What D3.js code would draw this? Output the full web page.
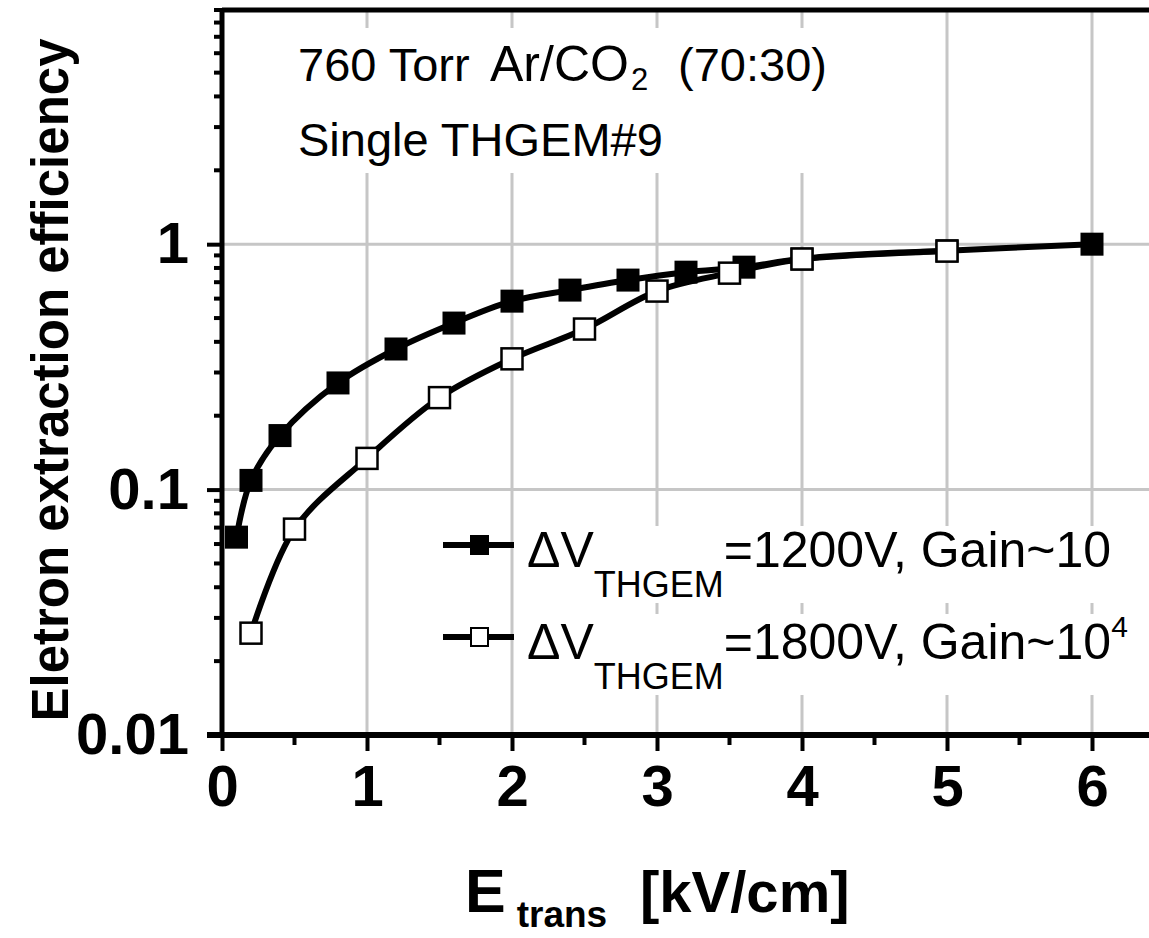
<!DOCTYPE html>
<html><head><meta charset="utf-8">
<script src="https://cdn.jsdelivr.net/npm/d3@7"></script>
<style>body{margin:0;background:#fff} svg{display:block} text{font-family:"Liberation Sans",Arial,sans-serif}</style>
</head><body><svg id="c" width="1149" height="938"></svg>
<script>
// ---- data ----
const xTickValues = [0, 1, 2, 3, 4, 5, 6];
const xTickLabels = ["0", "1", "2", "3", "4", "5", "6"];
const yTickValues = [0.01, 0.1, 1];
const yTickLabels = ["0.01", "0.1", "1"];
const field1200 = [0.1, 0.2, 0.4, 0.8, 1.2, 1.6, 2.0, 2.4, 2.8, 3.2, 3.6, 4.0, 5.0, 6.0];
const eff1200   = [0.064, 0.109, 0.166, 0.272, 0.374, 0.477, 0.586, 0.650, 0.714, 0.769, 0.806, 0.87, 0.94, 1.0];
const field1800 = [0.2, 0.5, 1.0, 1.5, 2.0, 2.5, 3.0, 3.5, 4.0, 5.0];
const eff1800   = [0.026, 0.069, 0.134, 0.237, 0.341, 0.451, 0.644, 0.762, 0.87, 0.937];
const seriesNames = ["1200V, Gain~10", "1800V, Gain~10"];

const svg = d3.select("#c");
const x = d3.scaleLinear().domain([0, 6.4]).range([222, 1150]);
const y = d3.scaleLog().domain([0.01, 9]).range([735, 10]);
const grid = "#c6c6c6";

// gridlines
svg.append("g").selectAll("line").data(xTickValues.filter(d => d > 0)).join("line")
  .attr("x1", d => x(d)).attr("x2", d => x(d)).attr("y1", y(9)).attr("y2", y(0.01))
  .attr("stroke", grid).attr("stroke-width", 3);
svg.append("g").selectAll("line").data([0.1, 1]).join("line")
  .attr("x1", x(0)).attr("x2", x(6.4)).attr("y1", d => y(d)).attr("y2", d => y(d))
  .attr("stroke", grid).attr("stroke-width", 3);

// annotation block
const bgLayer = svg.append("g");
const ann = svg.append("g").attr("font-size", 47).attr("fill", "#000");
const t1 = ann.append("text").attr("y", 81);
t1.append("tspan").attr("x", 298).text("760 Torr");
t1.append("tspan").attr("x", 490).attr("font-size", 50).text("Ar/CO");
t1.append("tspan").attr("font-size", 31).attr("dy", 9).attr("dx", 2).text("2");
t1.append("tspan").attr("x", 678).attr("dy", -9).text("(70:30)");
ann.append("text").attr("x", 298).attr("y", 156).text("Single THGEM#9");
{
  const b = ann.node().getBBox();
  bgLayer.append("rect").attr("x", b.x - 6).attr("y", 28).attr("width", b.width + 12).attr("height", 145).attr("fill", "#fff");
}

// legend
const legRows = [
  {y: 545, base: 567, name: seriesNames[0], sup: null, filled: true},
  {y: 637, base: 659, name: seriesNames[1], sup: "4", filled: false}
];
legRows.forEach(r => {
  const g = svg.append("g");
  g.append("line").attr("x1", 443).attr("x2", 514).attr("y1", r.y).attr("y2", r.y).attr("stroke", "#000").attr("stroke-width", 6);
  g.append("rect").attr("x", 471).attr("y", r.y - 9).attr("width", 17).attr("height", 18)
    .attr("fill", r.filled ? "#000" : "#fff").attr("stroke", "#000").attr("stroke-width", 2);
  const t = g.append("text").attr("x", 527).attr("y", r.base).attr("font-size", 50);
  t.append("tspan").text("\u0394V");
  t.append("tspan").attr("font-size", 36).attr("dy", 30).text("THGEM");
  t.append("tspan").attr("dy", -30).text("=" + r.name);
  if (r.sup) t.append("tspan").attr("font-size", 30).attr("dy", -22).text(r.sup);
  const b = t.node().getBBox();
  bgLayer.append("rect").attr("x", b.x - 4).attr("y", b.y + 4).attr("width", b.width + 8).attr("height", b.height - 6).attr("fill", "#fff");
});

// curves
const line = d3.line().x(d => x(d[0])).y(d => y(d[1])).curve(d3.curveCatmullRom.alpha(0.5));
const s1800 = field1800.map((v, i) => [v, eff1800[i]]);
const s1200 = field1200.map((v, i) => [v, eff1200[i]]);
svg.append("path").datum(s1200).attr("d", line).attr("fill", "none").attr("stroke", "#000").attr("stroke-width", 6);
svg.append("path").datum(s1800).attr("d", line).attr("fill", "none").attr("stroke", "#000").attr("stroke-width", 6);
svg.append("g").selectAll("rect").data(s1200).join("rect")
  .attr("x", d => x(d[0]) - 11.5).attr("y", d => y(d[1]) - 11.5).attr("width", 23).attr("height", 23).attr("fill", "#000");
svg.append("g").selectAll("rect").data(s1800).join("rect")
  .attr("x", d => x(d[0]) - 10.5).attr("y", d => y(d[1]) - 10.5).attr("width", 21).attr("height", 21)
  .attr("fill", "#fff").attr("stroke", "#000").attr("stroke-width", 2.5);

// axes frame
svg.append("line").attr("x1", x(0)).attr("x2", x(6.4)).attr("y1", y(9)).attr("y2", y(9)).attr("stroke", "#000").attr("stroke-width", 5);
svg.append("line").attr("x1", x(0)).attr("x2", x(0)).attr("y1", y(9) - 2).attr("y2", y(0.01)).attr("stroke", "#000").attr("stroke-width", 5);
svg.append("line").attr("x1", 207).attr("x2", x(6.4)).attr("y1", y(0.01)).attr("y2", y(0.01)).attr("stroke", "#000").attr("stroke-width", 6);

// x ticks
const xAxis = d3.axisBottom(x).tickValues(xTickValues).tickFormat((d, i) => xTickLabels[i]).tickSize(16).tickPadding(14);
const gx = svg.append("g").attr("transform", `translate(0,${y(0.01)})`).call(xAxis);
gx.select(".domain").remove();
gx.selectAll(".tick line").attr("stroke", "#000").attr("stroke-width", 4);
gx.selectAll(".tick text").attr("font-size", 58).attr("font-weight", "bold").attr("fill", "#000")
  .attr("font-family", '"Liberation Sans",Arial,sans-serif');
const xMinor = d3.range(0.5, 6.4, 1);
svg.append("g").selectAll("line").data(xMinor).join("line")
  .attr("x1", d => x(d)).attr("x2", d => x(d)).attr("y1", y(0.01)).attr("y2", y(0.01) + 10)
  .attr("stroke", "#000").attr("stroke-width", 4);

// y ticks
const yAxis = d3.axisLeft(y).tickValues(yTickValues).tickFormat((d, i) => yTickLabels[i]).tickSize(15).tickPadding(18);
const gy = svg.append("g").attr("transform", `translate(${x(0)},0)`).call(yAxis);
gy.select(".domain").remove();
gy.selectAll(".tick line").attr("stroke", "#000").attr("stroke-width", 4);
gy.selectAll(".tick text").attr("font-size", 58).attr("font-weight", "bold").attr("fill", "#000")
  .attr("font-family", '"Liberation Sans",Arial,sans-serif');
const yMinor = [];
[0.01, 0.1, 1].forEach(dec => { for (let k = 2; k <= 9; k++) yMinor.push(dec * k); });
svg.append("g").selectAll("line").data(yMinor.filter(v => v <= 9)).join("line")
  .attr("x1", x(0) - 8).attr("x2", x(0)).attr("y1", d => y(d)).attr("y2", d => y(d))
  .attr("stroke", "#000").attr("stroke-width", 4);

// axis titles
svg.append("text").attr("transform", "translate(68,380) rotate(-90)").attr("text-anchor", "middle")
  .attr("font-size", 51).attr("font-weight", "bold").text("Eletron extraction efficiency");
const xl = svg.append("text").attr("x", 465).attr("y", 912).attr("font-size", 61).attr("font-weight", "bold");
xl.append("tspan").text("E");
xl.append("tspan").attr("dx", 11).attr("dy", 15).attr("font-size", 37).text("trans");
xl.append("tspan").attr("x", 640).attr("dy", -15).attr("font-size", 58).text("[kV/cm]");
</script></body></html>
